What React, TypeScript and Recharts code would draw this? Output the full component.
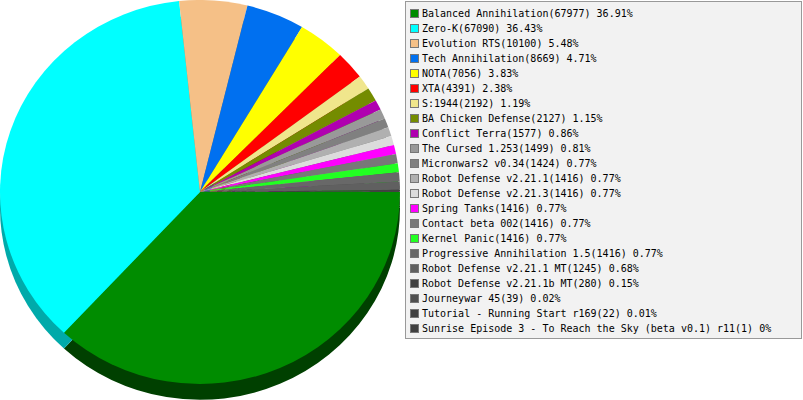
import React from 'react';
import { PieChart, Pie, Cell } from 'recharts';

// games played, in legend order (clockwise from 3 o'clock)
const GAMES = [
  'Balanced Annihilation',
  'Zero-K',
  'Evolution RTS',
  'Tech Annihilation',
  'NOTA',
  'XTA',
  'S:1944',
  'BA Chicken Defense',
  'Conflict Terra',
  'The Cursed 1.253',
  'Micronwars2 v0.34',
  'Robot Defense v2.21.1',
  'Robot Defense v2.21.3',
  'Spring Tanks',
  'Contact beta 002',
  'Kernel Panic',
  'Progressive Annihilation 1.5',
  'Robot Defense v2.21.1 MT',
  'Robot Defense v2.21.1b MT',
  'Journeywar 45',
  'Tutorial - Running Start r169',
  'Sunrise Episode 3 - To Reach the Sky (beta v0.1) r11',
];

const PLAYS = [
  67977, 67090, 10100, 8669, 7056, 4391, 2192, 2127, 1577, 1499, 1424,
  1416, 1416, 1416, 1416, 1416, 1416, 1245, 280, 39, 22, 1,
];

const COLORS = [
  '#008c00', '#00ffff', '#f5c087', '#0070f0', '#ffff00', '#ff0000',
  '#f0e68c', '#748c00', '#b000b0', '#999999', '#808080', '#b0b0b0',
  '#dcdcdc', '#ff00ff', '#787878', '#22ff22', '#686868', '#606060',
  '#404040', '#505050', '#404040', '#404040',
];

const SHADOWS = [
  '#004000', '#00aaaa', '#a08050', '#004a9e', '#a8a800', '#a80000',
  '#9e9860', '#4c5c00', '#740074', '#666666', '#555555', '#747474',
  '#929292', '#a800a8', '#505050', '#16a816', '#444444', '#404040',
  '#2a2a2a', '#353535', '#2a2a2a', '#2a2a2a',
];

const total = PLAYS.reduce((a, b) => a + b, 0);
const rows = GAMES.map((name, i) => ({ name, value: PLAYS[i] }));

const pct = (v: number) => String(Math.round((v * 10000) / total) / 100);

export default function App() {
  return (
    <div style={{ position: 'absolute', left: 0, top: 0, width: 803, height: 400, background: '#fff', overflow: 'hidden' }}>
      <div style={{ position: 'absolute', left: 0, top: 0, transform: 'scaleY(0.96)', transformOrigin: '0 0' }}>
        <PieChart width={400} height={418} margin={{ top: 0, right: 0, bottom: 0, left: 0 }}>
          <Pie
            data={rows}
            dataKey="value"
            cx={200}
            cy={216.5}
            outerRadius={200}
            startAngle={0}
            endAngle={-360}
            stroke="none"
            isAnimationActive={false}
          >
            {rows.map((r, i) => <Cell key={r.name} fill={SHADOWS[i]} />)}
          </Pie>
          <Pie
            data={rows}
            dataKey="value"
            cx={200}
            cy={200}
            outerRadius={200}
            startAngle={0}
            endAngle={-360}
            stroke="none"
            isAnimationActive={false}
          >
            {rows.map((r, i) => <Cell key={r.name} fill={COLORS[i]} />)}
          </Pie>
        </PieChart>
      </div>
      <div
        style={{
          position: 'absolute', left: 405, top: 1, width: 395, height: 336,
          background: '#f2f2f2', border: '1px solid #999',
          fontFamily: '"DejaVu Sans Mono", monospace', fontSize: 10, color: '#000',
        }}
      >
        {rows.map((r, i) => (
          <div key={r.name} style={{ position: 'absolute', left: 4, top: 4 + i * 15, height: 15, display: 'flex', alignItems: 'center', whiteSpace: 'nowrap' }}>
            <span style={{ display: 'inline-block', width: 7, height: 7, background: COLORS[i], border: '1px solid #777', marginRight: 3 }} />
            <span>{`${r.name}(${r.value}) ${pct(r.value)}%`}</span>
          </div>
        ))}
      </div>
    </div>
  );
}
